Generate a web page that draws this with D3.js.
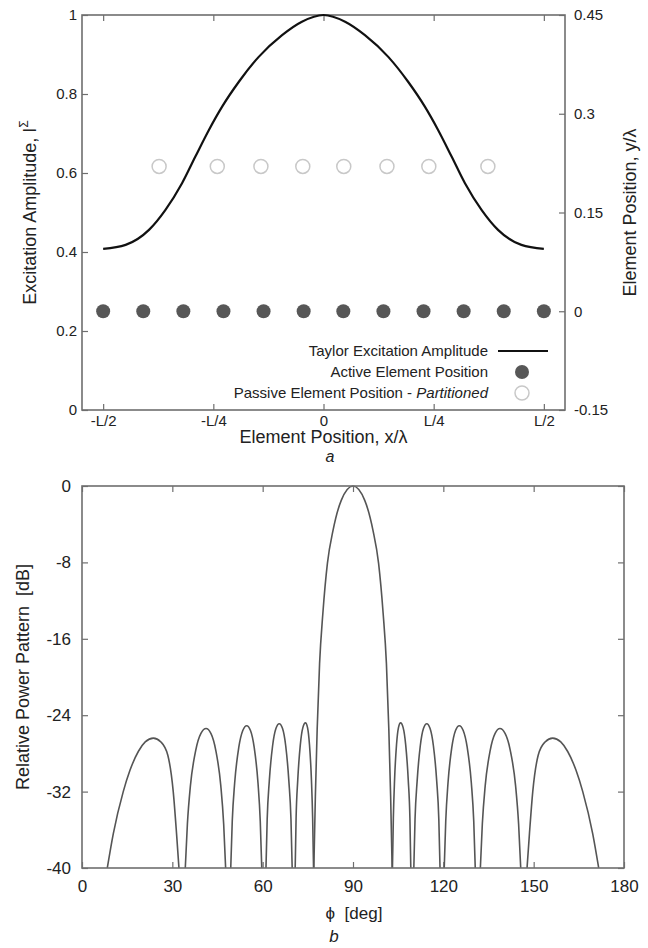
<!DOCTYPE html>
<html>
<head>
<meta charset="utf-8">
<script src="https://cdn.jsdelivr.net/npm/d3@7"></script>
<style>
  body { margin: 0; background: #fff; }
  svg text { font-family: "Liberation Sans", Arial, Helvetica, sans-serif; fill: #222; }
  .frame { fill: none; stroke: #6e6e6e; stroke-width: 1.6; }
  .tick line { stroke: #6e6e6e; stroke-width: 1.2; }
</style>
</head>
<body>
<svg id="fig" width="648" height="948"></svg>
<script>
// ---- panel a data ----
var xTickVals = [-0.5, -0.25, 0, 0.25, 0.5];
var xTickLabels = ["-L/2", "-L/4", "0", "L/4", "L/2"];
var ampTicks = [0, 0.2, 0.4, 0.6, 0.8, 1];
var posTicks = [-0.15, 0, 0.15, 0.3, 0.45];

var taylorX = [-0.5, -0.449, -0.396, -0.359, -0.321, -0.291, -0.26, -0.23, -0.192, -0.147, -0.094, -0.049, 0,
               0.049, 0.094, 0.147, 0.192, 0.23, 0.26, 0.291, 0.321, 0.359, 0.396, 0.449, 0.5];
var taylorAmp = [0.408, 0.418, 0.456, 0.506, 0.574, 0.641, 0.709, 0.768, 0.831, 0.894, 0.949, 0.983, 1,
                 0.983, 0.949, 0.894, 0.831, 0.768, 0.709, 0.641, 0.574, 0.506, 0.456, 0.418, 0.408];

var activeX = [-0.5, -0.409, -0.318, -0.227, -0.136, -0.045, 0.045, 0.136, 0.227, 0.318, 0.409, 0.5];
var activeY = 0;
var passiveX = [-0.373, -0.241, -0.142, -0.047, 0.046, 0.144, 0.239, 0.373];
var passiveY = 0.22;

var legendLabels = ["Taylor Excitation Amplitude", "Active Element Position", "Passive Element Position - "];

// ---- panel b data ----
var phiTicks = [0, 30, 60, 90, 120, 150, 180];
var dbTicks = [-40, -32, -24, -16, -8, 0];

var sideLobesLeft = [
  [[8.4,-40],[10.4,-36.4],[13.7,-32.0],[15.9,-29.8],[18.7,-27.8],[21.0,-26.8],[23.7,-26.4],[26.2,-26.8],[28.5,-28.2],[30.3,-32.0],[31.4,-36.4],[32.2,-40]],
  [[34.3,-40],[35.0,-35.4],[36.0,-31.4],[37.75,-27.7],[39.5,-25.9],[41.2,-25.4],[42.8,-25.9],[44.45,-27.7],[46.1,-31.4],[47.05,-35.4],[47.7,-40]],
  [[49.4,-40],[49.9,-35.1],[50.7,-31.1],[52.05,-27.4],[53.4,-25.6],[54.7,-25.1],[55.95,-25.6],[57.2,-27.4],[58.45,-31.1],[59.2,-35.1],[59.7,-40]],
  [[61.1,-40],[61.5,-34.9],[62.2,-30.9],[63.3,-27.2],[64.4,-25.4],[65.5,-24.9],[66.6,-25.4],[67.65,-27.2],[68.7,-30.9],[69.4,-34.9],[69.8,-40]],
  [[70.8,-40],[71.1,-34.8],[71.65,-30.8],[72.5,-27.1],[73.35,-25.3],[74.2,-24.8],[74.9,-25.3],[75.55,-27.1],[76.2,-30.8],[76.6,-34.8],[76.9,-40]]
];
var mainLobe = [[77.0,-40],[77.5,-32.5],[78.1,-25.5],[78.9,-18.6],[80.0,-13.3],[81.5,-8.1],[83.4,-4.6],[86.1,-1.5],[90,0],
                [93.9,-1.5],[96.6,-4.6],[98.5,-8.1],[100.0,-13.3],[101.1,-18.6],[101.9,-25.5],[102.5,-32.5],[103.0,-40]];
var sideLobesRight = [
  [[103.1,-40],[103.4,-34.8],[103.8,-30.8],[104.45,-27.1],[105.1,-25.3],[105.8,-24.8],[106.65,-25.3],[107.5,-27.1],[108.35,-30.8],[108.9,-34.8],[109.2,-40]],
  [[110.2,-40],[110.6,-34.9],[111.3,-30.9],[112.35,-27.2],[113.4,-25.4],[114.5,-24.9],[115.6,-25.4],[116.7,-27.2],[117.8,-30.9],[118.5,-34.9],[118.9,-40]],
  [[120.3,-40],[120.8,-35.1],[121.55,-31.1],[122.8,-27.4],[124.05,-25.6],[125.3,-25.1],[126.6,-25.6],[127.95,-27.4],[129.3,-31.1],[130.1,-35.1],[130.6,-40]],
  [[132.3,-40],[132.95,-35.4],[133.9,-31.4],[135.55,-27.7],[137.2,-25.9],[138.8,-25.4],[140.5,-25.9],[142.25,-27.7],[144.0,-31.4],[145.0,-35.4],[145.7,-40]],
  [[147.8,-40],[148.6,-36.4],[149.7,-32.0],[151.5,-28.2],[153.8,-26.8],[156.3,-26.4],[159.0,-26.8],[161.3,-27.8],[164.1,-29.8],[166.3,-32.0],[169.6,-36.4],[171.6,-40]]
];

var svg = d3.select("#fig");
var fmt = function(d) { return String(d).replace("\u2212", "-"); };

// ================= panel a =================
var A = { left: 82, right: 565, top: 15, bottom: 410 };
var xA = d3.scaleLinear().domain([-0.548, 0.548]).range([A.left, A.right]);
var yAmp = d3.scaleLinear().domain([0, 1]).range([A.bottom, A.top]);
var yPos = d3.scaleLinear().domain([-0.15, 0.45]).range([A.bottom, A.top]);

var gA = svg.append("g");

gA.append("g")
    .attr("transform", "translate(0," + A.bottom + ")")
    .call(d3.axisBottom(xA).tickValues(xTickVals).tickSizeInner(-6).tickSizeOuter(0).tickPadding(5)
        .tickFormat(function(d, i) { return xTickLabels[i]; }))
    .attr("font-size", 15);
gA.append("g")
    .attr("transform", "translate(0," + A.top + ")")
    .call(d3.axisTop(xA).tickValues(xTickVals).tickSizeInner(-6).tickSizeOuter(0).tickFormat(""));
gA.append("g")
    .attr("transform", "translate(" + A.left + ",0)")
    .call(d3.axisLeft(yAmp).tickValues(ampTicks).tickSizeInner(-6).tickSizeOuter(0).tickPadding(5).tickFormat(fmt))
    .attr("font-size", 15);
gA.append("g")
    .attr("transform", "translate(" + A.right + ",0)")
    .call(d3.axisRight(yPos).tickValues(posTicks).tickSizeInner(-6).tickSizeOuter(0).tickPadding(9).tickFormat(fmt))
    .attr("font-size", 15);
gA.selectAll(".domain").remove();

gA.append("rect").attr("class", "frame")
    .attr("x", A.left).attr("y", A.top)
    .attr("width", A.right - A.left).attr("height", A.bottom - A.top);

// taylor excitation curve
var taylorLine = d3.line()
    .x(function(d, i) { return xA(taylorX[i]); })
    .y(function(d) { return yAmp(d); })
    .curve(d3.curveMonotoneX);
gA.append("path")
    .datum(taylorAmp)
    .attr("d", taylorLine)
    .attr("fill", "none")
    .attr("stroke", "#111")
    .attr("stroke-width", 2.2);

// passive (partitioned) elements
gA.selectAll(".passive")
    .data(passiveX)
    .enter().append("circle")
    .attr("class", "passive")
    .attr("cx", function(d) { return xA(d); })
    .attr("cy", yPos(passiveY))
    .attr("r", 7)
    .attr("fill", "none")
    .attr("stroke", "#c8c8c8")
    .attr("stroke-width", 1.5);

// active elements
gA.selectAll(".active")
    .data(activeX)
    .enter().append("circle")
    .attr("class", "active")
    .attr("cx", function(d) { return xA(d); })
    .attr("cy", yPos(activeY))
    .attr("r", 7)
    .attr("fill", "#575757");

// legend
var leg = gA.append("g").attr("font-size", 15);
var legY = [351, 372, 393];
leg.selectAll("text")
    .data(legendLabels)
    .enter().append("text")
    .attr("x", 488)
    .attr("y", function(d, i) { return legY[i] + 5; })
    .attr("text-anchor", "end")
    .text(function(d) { return d; })
    .filter(function(d, i) { return i == 2; })
    .append("tspan").attr("font-style", "italic").text("Partitioned");
leg.append("line")
    .attr("x1", 498).attr("x2", 548).attr("y1", legY[0]).attr("y2", legY[0])
    .attr("stroke", "#111").attr("stroke-width", 2.2);
leg.append("circle").attr("cx", 522).attr("cy", legY[1]).attr("r", 7).attr("fill", "#575757");
leg.append("circle").attr("cx", 522).attr("cy", legY[2]).attr("r", 7)
    .attr("fill", "none").attr("stroke", "#c8c8c8").attr("stroke-width", 1.5);

// axis titles
var tA = gA.append("text")
    .attr("transform", "translate(36," + ((A.top + A.bottom) / 2) + ") rotate(-90)")
    .attr("text-anchor", "middle")
    .attr("font-size", 18)
    .text("Excitation Amplitude, I");
tA.append("tspan").attr("font-size", 12).attr("dy", -8).text("\u03A3");

gA.append("text")
    .attr("transform", "translate(636," + ((A.top + A.bottom) / 2) + ") rotate(-90)")
    .attr("text-anchor", "middle")
    .attr("font-size", 18)
    .text("Element Position, y/\u03BB");

gA.append("text")
    .attr("x", (A.left + A.right) / 2).attr("y", 443)
    .attr("text-anchor", "middle")
    .attr("font-size", 18)
    .text("Element Position, x/\u03BB");

gA.append("text")
    .attr("x", 330).attr("y", 462)
    .attr("text-anchor", "middle")
    .attr("font-size", 16)
    .attr("font-style", "italic")
    .text("a");

// ================= panel b =================
var B = { left: 82, right: 624, top: 486, bottom: 868 };
var xB = d3.scaleLinear().domain([0, 180]).range([B.left, B.right]);
var yB = d3.scaleLinear().domain([-40, 0]).range([B.bottom, B.top]);

var gB = svg.append("g");

gB.append("g")
    .attr("transform", "translate(0," + B.bottom + ")")
    .call(d3.axisBottom(xB).tickValues(phiTicks).tickSizeInner(-6).tickSizeOuter(0).tickPadding(12))
    .attr("font-size", 17);
gB.append("g")
    .attr("transform", "translate(0," + B.top + ")")
    .call(d3.axisTop(xB).tickValues(phiTicks).tickSizeInner(-6).tickSizeOuter(0).tickFormat(""));
gB.append("g")
    .attr("transform", "translate(" + B.left + ",0)")
    .call(d3.axisLeft(yB).tickValues(dbTicks).tickSizeInner(-6).tickSizeOuter(0).tickPadding(11).tickFormat(fmt))
    .attr("font-size", 17);
gB.append("g")
    .attr("transform", "translate(" + B.right + ",0)")
    .call(d3.axisRight(yB).tickValues(dbTicks).tickSizeInner(-6).tickSizeOuter(0).tickFormat(""));
gB.selectAll(".domain").remove();

svg.append("clipPath").attr("id", "clipB")
    .append("rect")
    .attr("x", B.left).attr("y", B.top - 2)
    .attr("width", B.right - B.left).attr("height", B.bottom - B.top + 2);

var lobeLine = d3.line()
    .x(function(d) { return xB(d[0]); })
    .y(function(d) { return yB(d[1]); })
    .curve(d3.curveMonotoneX);

var allLobes = sideLobesLeft.concat([mainLobe], sideLobesRight);
gB.append("g")
    .attr("clip-path", "url(#clipB)")
    .selectAll("path")
    .data(allLobes)
    .enter().append("path")
    .attr("d", lobeLine)
    .attr("fill", "none")
    .attr("stroke", "#555")
    .attr("stroke-width", 1.6);

gB.append("rect").attr("class", "frame")
    .attr("x", B.left).attr("y", B.top)
    .attr("width", B.right - B.left).attr("height", B.bottom - B.top);

gB.append("text")
    .attr("transform", "translate(29," + ((B.top + B.bottom) / 2) + ") rotate(-90)")
    .attr("text-anchor", "middle")
    .attr("font-size", 18)
    .attr("xml:space", "preserve")
    .text("Relative Power Pattern  [dB]");

gB.append("text")
    .attr("x", 354).attr("y", 919)
    .attr("text-anchor", "middle")
    .attr("font-size", 17)
    .attr("xml:space", "preserve")
    .text("\u03D5  [deg]");

gB.append("text")
    .attr("x", 334).attr("y", 942)
    .attr("text-anchor", "middle")
    .attr("font-size", 17)
    .attr("font-style", "italic")
    .text("b");
</script>
</body>
</html>
